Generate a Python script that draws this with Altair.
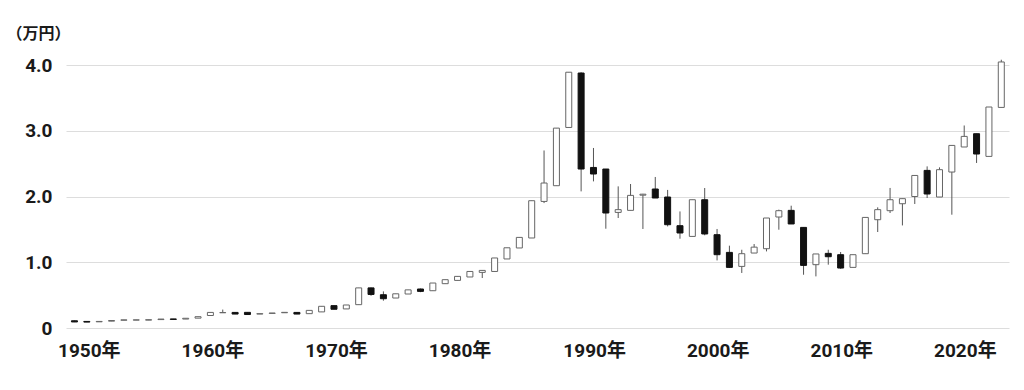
import altair as alt
import pandas as pd

years = list(range(1949, 2025))

open_ = [0.110, 0.100, 0.094, 0.104, 0.118, 0.120, 0.120, 0.128, 0.138, 0.136,
         0.150, 0.190, 0.232, 0.237, 0.238, 0.212, 0.222, 0.232, 0.237, 0.218,
         0.245, 0.340, 0.290, 0.355, 0.610, 0.506, 0.456, 0.517, 0.593, 0.567,
         0.674, 0.724, 0.776, 0.846, 0.860, 1.050, 1.217, 1.369, 1.925, 2.164,
         3.050, 3.878, 2.442, 2.418, 1.758, 1.789, 2.020, 2.114, 1.992, 1.556,
         1.393, 1.951, 1.419, 1.150, 0.937, 1.140, 1.206, 1.688, 1.789, 1.530,
         0.963, 1.135, 1.115, 0.922, 1.130, 1.647, 1.784, 1.890, 2.000, 2.397,
         1.992, 2.372, 2.753, 2.955, 2.610, 3.355]

close = [0.092, 0.090, 0.100, 0.114, 0.124, 0.124, 0.126, 0.136, 0.130, 0.148,
         0.172, 0.237, 0.235, 0.212, 0.205, 0.218, 0.228, 0.238, 0.212, 0.268,
         0.330, 0.285, 0.350, 0.610, 0.510, 0.445, 0.520, 0.580, 0.557, 0.684,
         0.735, 0.785, 0.860, 0.876, 1.065, 1.220, 1.378, 1.936, 2.205, 3.040,
         3.890, 2.418, 2.342, 1.749, 1.800, 2.017, 2.035, 1.977, 1.571, 1.445,
         1.951, 1.430, 1.115, 0.922, 1.130, 1.230, 1.673, 1.784, 1.582, 0.952,
         1.126, 1.084, 0.912, 1.115, 1.682, 1.800, 1.951, 1.967, 2.320, 2.038,
         2.408, 2.777, 2.914, 2.646, 3.361, 4.046]

high = [0.112, 0.100, 0.100, 0.114, 0.124, 0.124, 0.126, 0.136, 0.138, 0.148,
        0.172, 0.237, 0.280, 0.237, 0.238, 0.218, 0.228, 0.238, 0.237, 0.268,
        0.330, 0.340, 0.350, 0.610, 0.615, 0.557, 0.520, 0.580, 0.600, 0.684,
        0.735, 0.785, 0.860, 0.876, 1.065, 1.220, 1.378, 1.936, 2.700, 3.040,
        3.890, 3.890, 2.738, 2.418, 2.154, 2.190, 2.040, 2.297, 2.100, 1.773,
        1.951, 2.129, 1.506, 1.252, 1.190, 1.277, 1.673, 1.800, 1.860, 1.530,
        1.126, 1.190, 1.156, 1.115, 1.682, 1.835, 2.130, 1.967, 2.320, 2.458,
        2.443, 2.777, 3.080, 2.955, 3.361, 4.080]

low = [0.090, 0.090, 0.094, 0.104, 0.118, 0.120, 0.120, 0.128, 0.130, 0.136,
       0.150, 0.190, 0.230, 0.212, 0.205, 0.212, 0.222, 0.232, 0.212, 0.218,
       0.245, 0.285, 0.290, 0.355, 0.490, 0.415, 0.456, 0.517, 0.545, 0.567,
       0.674, 0.724, 0.776, 0.760, 0.860, 1.050, 1.217, 1.369, 1.900, 2.164,
       3.050, 2.078, 2.230, 1.510, 1.673, 1.789, 1.506, 1.977, 1.545, 1.358,
       1.393, 1.410, 1.028, 0.913, 0.837, 1.140, 1.165, 1.495, 1.582, 0.810,
       0.785, 0.963, 0.900, 0.922, 1.130, 1.460, 1.749, 1.560, 1.886, 1.977,
       1.992, 1.723, 2.753, 2.510, 2.610, 3.355]

tick_years = [1950, 1960, 1970, 1980, 1990, 2000, 2010, 2020]
y_ticks = [0, 1, 2, 3, 4]

df = pd.DataFrame({"year": years, "open": open_, "close": close,
                   "high": high, "low": low})

FONT = "Roboto, 'Noto Sans CJK JP', sans-serif"

x_scale = alt.Scale(domain=[1948.72, 2024.22], nice=False, zero=False)
y_scale = alt.Scale(domain=[0, 4], nice=False, zero=True)

x_axis = alt.Axis(
    values=tick_years,
    labelExpr="format(datum.value, 'd') + '年'",
    grid=False, domain=False, ticks=False, tickSize=0,
    labelFont=FONT, labelFontSize=19, labelFontWeight="bold",
    labelColor="#1a1a1a", labelPadding=13,
    labelOffset={"condition": {"test": "datum.value < 1985", "value": 2}, "value": 13},
    title=None,
)

y_axis = alt.Axis(
    values=y_ticks,
    labelExpr="datum.value == 0 ? '0' : format(datum.value, '.1f')",
    grid=True, gridColor="#dddddd", gridWidth=1,
    domain=False, ticks=False, tickSize=0,
    labelFont=FONT, labelFontSize=19, labelFontWeight="bold",
    labelColor="#1a1a1a", labelPadding=14,
    title="（万円）", titleAngle=0, titleX=-60, titleY=-32,
    titleAlign="left", titleBaseline="middle",
    titleFont="'Noto Sans CJK JP', sans-serif", titleFontSize=16,
    titleFontWeight="bold", titleColor="#1a1a1a",
)

base = alt.Chart(df)

wicks = base.mark_rule(color="#555555", strokeWidth=1).encode(
    x=alt.X("year:Q", scale=x_scale, axis=x_axis),
    y=alt.Y("low:Q", scale=y_scale, axis=y_axis, title="（万円）"),
    y2="high:Q",
)

bodies = base.mark_bar(size=6, strokeWidth=1).encode(
    x=alt.X("year:Q", scale=x_scale, axis=x_axis),
    y=alt.Y("open:Q", scale=y_scale, axis=y_axis, title="（万円）"),
    y2="close:Q",
    fill=alt.condition("datum.close >= datum.open", alt.value("#ffffff"), alt.value("#111111")),
    stroke=alt.condition("datum.close >= datum.open", alt.value("#666666"), alt.value("#111111")),
)

chart = alt.layer(wicks, bodies).properties(
    width=943, height=263,
    autosize=alt.AutoSizeParams(type="none"),
    padding={"left": 58, "top": 57, "right": 7, "bottom": 50},
    background="white",
).configure_view(stroke=None)

chart.save("out.html", embed_options={"renderer": "svg", "actions": False})
